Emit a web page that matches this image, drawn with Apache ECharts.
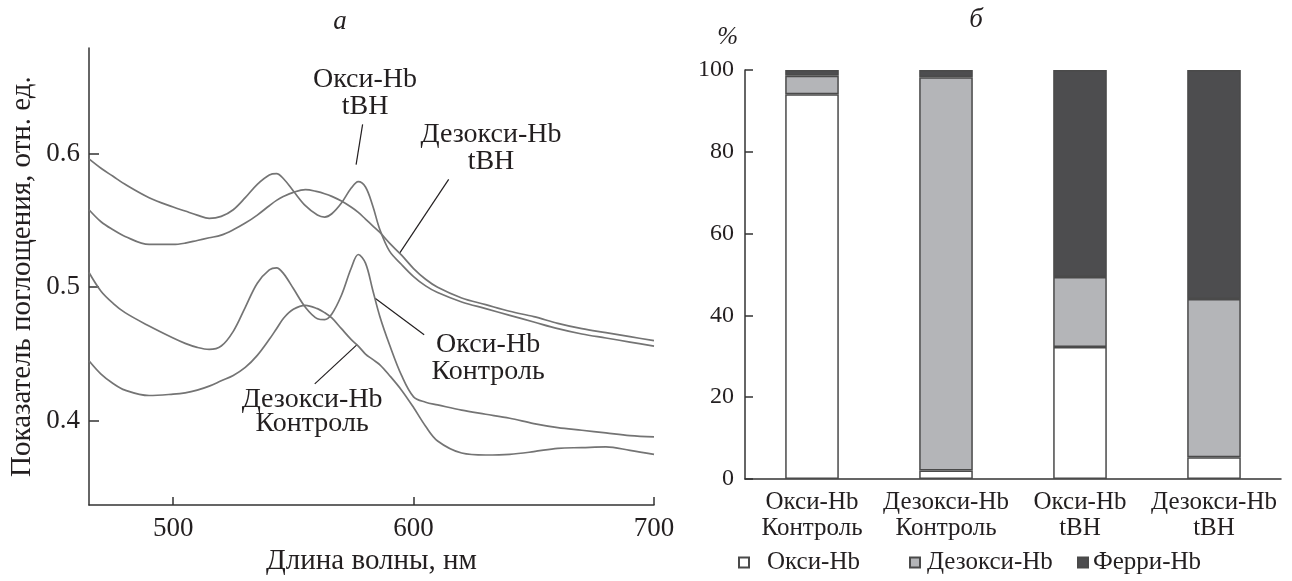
<!DOCTYPE html>
<html>
<head>
<meta charset="utf-8">
<script src="https://cdn.jsdelivr.net/npm/echarts@6/dist/echarts.min.js"></script>
<style>html,body{margin:0;background:#fff}#c{width:1292px;height:581px}</style>
</head>
<body>
<div id="c"></div>
<script>
// спектры поглощения (панель а)
const wavelengths = [465, 470, 475, 480, 490, 500, 505, 510, 515, 520, 525, 530, 535, 540, 543, 546, 550, 555, 560, 563, 566, 570, 574, 577, 580, 583, 586, 590, 595, 600, 605, 610, 620, 630, 640, 650, 660, 670, 680, 690, 700];
const oxyTbh = [0.596, 0.589, 0.583, 0.577, 0.567, 0.560, 0.557, 0.554, 0.5515, 0.553, 0.558, 0.567, 0.577, 0.584, 0.585, 0.581, 0.572, 0.561, 0.554, 0.5525, 0.555, 0.563, 0.574, 0.579, 0.575, 0.561, 0.543, 0.527, 0.517, 0.508, 0.501, 0.496, 0.489, 0.484, 0.479, 0.474, 0.469, 0.465, 0.462, 0.459, 0.456];
const deoxyTbh = [0.558, 0.549, 0.543, 0.538, 0.532, 0.532, 0.533, 0.535, 0.537, 0.539, 0.543, 0.548, 0.554, 0.561, 0.565, 0.568, 0.571, 0.573, 0.5715, 0.570, 0.568, 0.5645, 0.560, 0.556, 0.551, 0.546, 0.541, 0.533, 0.524, 0.514, 0.506, 0.500, 0.492, 0.487, 0.482, 0.478, 0.473, 0.469, 0.466, 0.463, 0.460];
const oxyCtrl = [0.511, 0.497, 0.488, 0.481, 0.471, 0.462, 0.458, 0.455, 0.4535, 0.456, 0.467, 0.485, 0.503, 0.513, 0.5145, 0.510, 0.499, 0.485, 0.4765, 0.4758, 0.480, 0.494, 0.514, 0.5245, 0.518, 0.498, 0.478, 0.457, 0.434, 0.418, 0.414, 0.412, 0.408, 0.405, 0.402, 0.398, 0.395, 0.393, 0.391, 0.389, 0.388];
const deoxyCtrl = [0.445, 0.435, 0.428, 0.423, 0.419, 0.420, 0.421, 0.423, 0.426, 0.430, 0.434, 0.440, 0.449, 0.461, 0.469, 0.477, 0.4835, 0.4865, 0.484, 0.481, 0.477, 0.469, 0.461, 0.456, 0.450, 0.446, 0.442, 0.434, 0.423, 0.410, 0.396, 0.385, 0.376, 0.3745, 0.375, 0.377, 0.3795, 0.380, 0.3805, 0.378, 0.375];
const wlTicks = [500, 600, 700];
const absTicks = [0.4, 0.5, 0.6];

// подписи кривых: текст, центр текста, линия-выноска (в координатах данных)
const notes = [
  {text: 'Окси-Hb\ntBH', at: [579.8, 0.6450], lh: 27, from: [578.8, 0.6218], to: [576.1, 0.5917]},
  {text: 'Дезокси-Hb\ntBH', at: [632.2, 0.6040], lh: 27, from: [614.6, 0.5807], to: [594.2, 0.5255]},
  {text: 'Окси-Hb\nКонтроль', at: [631, 0.4470], lh: 27, from: [604.4, 0.4645], to: [584, 0.4917]},
  {text: 'Дезокси-Hb\nКонтроль', at: [557.8, 0.4070], lh: 24, from: [558.9, 0.4277], to: [576.5, 0.4571]}
];

// доли форм гемоглобина (панель б)
const groups = ['Окси-Hb\nКонтроль', 'Дезокси-Hb\nКонтроль', 'Окси-Hb\ntBH', 'Дезокси-Hb\ntBH'];
const oxyShare = [94.1, 2.1, 32.3, 5.3];
const deoxyShare = [4.5, 96.1, 17.1, 38.7];
const ferriShare = [1.4, 1.8, 50.6, 56.0];

const FONT = '"Liberation Serif", "Times New Roman", serif';
const INK = '#231f20';
const CURVE = '#747474';

const pairs = ys => wavelengths.map((w, i) => [w, ys[i]]);
const curve = ys => ({
  type: 'line', xAxisIndex: 0, yAxisIndex: 0, data: pairs(ys),
  smooth: 0.35, symbol: 'none', silent: true,
  lineStyle: {color: CURVE, width: 1.7}
});
const bar = (name, data, color) => ({
  type: 'bar', name, data, stack: 'hb', xAxisIndex: 1, yAxisIndex: 1,
  barWidth: '40%', silent: true,
  itemStyle: {color, borderColor: '#4a4a4a', borderWidth: 1.5}
});
const axisLine = {show: true, lineStyle: {color: '#333', width: 1.5}};
const leftText = {color: INK, fontFamily: FONT, fontSize: 27};
const titleText = {color: INK, fontFamily: FONT, fontSize: 29};
const rightText = {color: INK, fontFamily: FONT, fontSize: 25};
const legendItem = (name, left, pad) => ({
  data: [name], left, top: 545, itemWidth: 10, itemHeight: 10,
  selectedMode: false, icon: 'rect',
  textStyle: Object.assign({padding: [0, 0, 0, pad]}, rightText)
});

const chart = echarts.init(document.getElementById('c'));
chart.setOption({
  animation: false,
  grid: [
    {left: 89, top: 48, width: 565, height: 465},
    {left: 745, top: 70, width: 536, height: 409}
  ],
  xAxis: [
    {
      type: 'value', gridIndex: 0, min: 465, max: 700,
      axisLine, splitLine: {show: false},
      axisTick: {inside: true, length: 8, lineStyle: {color: '#333', width: 1.5}, customValues: wlTicks},
      axisLabel: Object.assign({margin: 10, customValues: wlTicks}, leftText),
      name: 'Длина волны, нм', nameLocation: 'middle', nameGap: 37,
      nameTextStyle: titleText
    },
    {
      type: 'category', gridIndex: 1, data: groups,
      axisLine,
      axisTick: {inside: true, length: 9, lineStyle: {color: '#333', width: 1.5}},
      axisLabel: Object.assign({interval: 0, margin: 10, lineHeight: 26}, rightText)
    }
  ],
  yAxis: [
    {
      type: 'value', gridIndex: 0, min: 0.337, max: 0.679,
      axisLine, splitLine: {show: false},
      axisTick: {show: true, inside: true, length: 10, lineStyle: {color: '#333', width: 1.5}, customValues: absTicks},
      axisLabel: Object.assign({margin: 9, customValues: absTicks, formatter: v => v.toFixed(1)}, leftText),
      name: 'Показатель поглощения, отн. ед.', nameLocation: 'middle', nameGap: 52,
      nameTextStyle: titleText
    },
    {
      type: 'value', gridIndex: 1, min: 0, max: 100, interval: 20,
      axisLine, splitLine: {show: false},
      axisTick: {show: true, inside: true, length: 8, lineStyle: {color: '#333', width: 1.5}},
      axisLabel: Object.assign({margin: 11}, rightText, {fontSize: 24}),
      name: '%', nameLocation: 'end', nameGap: 20,
      nameTextStyle: Object.assign({align: 'right', fontStyle: 'italic', padding: [0, 7, 0, 0]}, rightText)
    }
  ],
  legend: [
    legendItem('Окси-Hb', 733, 13),
    legendItem('Дезокси-Hb', 904, 2),
    legendItem('Ферри-Hb', 1072, 0)
  ],
  series: [
    curve(oxyTbh), curve(deoxyTbh), curve(oxyCtrl), curve(deoxyCtrl),
    bar('Окси-Hb', oxyShare, '#ffffff'),
    bar('Дезокси-Hb', deoxyShare, '#b4b5b8'),
    bar('Ферри-Hb', ferriShare, '#4d4d4f')
  ]
});

// подписи панелей и кривых
const px = p => chart.convertToPixel({gridIndex: 0}, p);
const graphics = [
  {type: 'text', x: 340, y: 22, style: {text: 'а', font: 'italic 27px ' + FONT, fill: INK, align: 'center', verticalAlign: 'middle'}},
  {type: 'text', x: 976, y: 20, style: {text: 'б', font: 'italic 27px ' + FONT, fill: INK, align: 'center', verticalAlign: 'middle'}}
];
notes.forEach(n => {
  const c = px(n.at), a = px(n.from), b = px(n.to);
  graphics.push({type: 'text', x: c[0], y: c[1], style: {text: n.text, font: '28px ' + FONT, fill: INK, align: 'center', verticalAlign: 'middle', lineHeight: n.lh}});
  graphics.push({type: 'line', shape: {x1: a[0], y1: a[1], x2: b[0], y2: b[1]}, style: {stroke: INK, lineWidth: 1.2}});
});
chart.setOption({graphic: graphics});
</script>
</body>
</html>
